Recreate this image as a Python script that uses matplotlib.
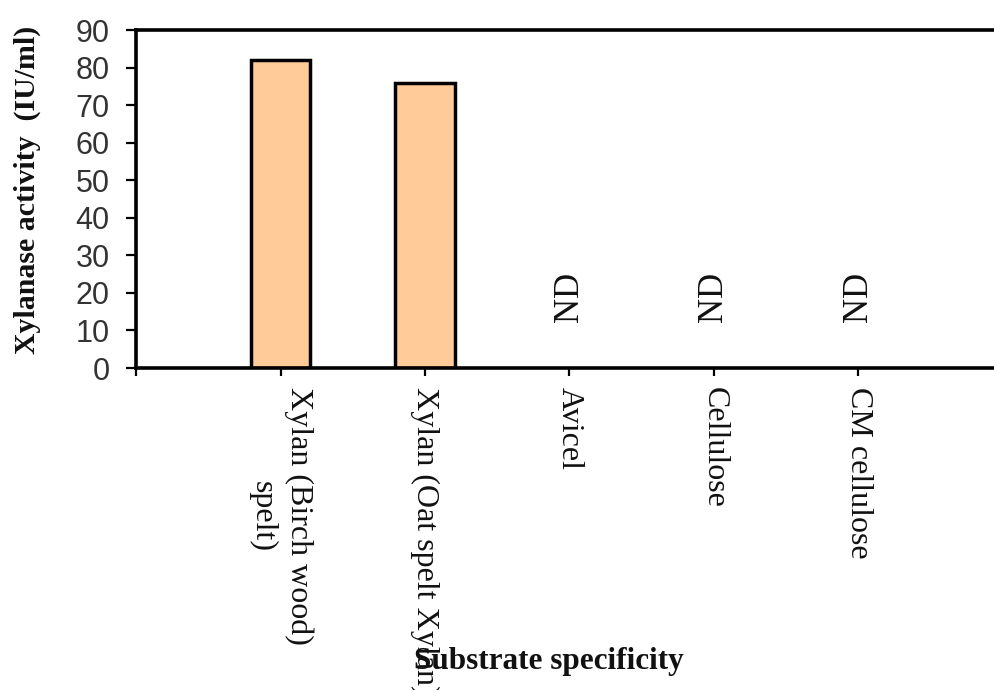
import matplotlib
matplotlib.use("Agg")
import matplotlib.pyplot as plt

# Substrate specificity of the xylanase
categories = ["Xylan (Birch wood)\nspelt)", "Xylan (Oat spelt Xylan)", "Avicel", "Cellulose", "CM cellulose"]
activity = [82, 76, 0, 0, 0]          # IU/ml, 0 = not detected
nd_label = "ND"
nd_level = 19
yticks = [0, 10, 20, 30, 40, 50, 60, 70, 80, 90]

W, H = 995, 690
fig = plt.figure(figsize=(W / 100, H / 100), dpi=100)
left, right, top, bottom = 136, 1003, 30, 368
ax = fig.add_axes([left / W, 1 - bottom / H, (right - left) / W, (bottom - top) / H])

xpos = list(range(1, len(categories) + 1))
bx = [x for x, v in zip(xpos, activity) if v > 0]
bv = [v for v in activity if v > 0]
ax.bar(bx, bv, width=0.415, color="#FFCC99", edgecolor="black", linewidth=2.5, zorder=2)

for x, v in zip(xpos, activity):
    if v == 0:
        ax.text(x, nd_level, nd_label, rotation=90, ha="center", va="center",
                fontsize=25, family="Liberation Serif", color="#111111")

ax.set_xlim(0, 6)
ax.set_ylim(0, 90)
ax.set_yticks(yticks)
ax.set_yticklabels([str(t) for t in yticks], family="Liberation Sans", fontsize=22, color="#333333")

ax.set_xticks([0] + xpos)
ax.set_xticklabels([""] + categories, rotation=-90, ha="center", va="top",
                   multialignment="center", family="Liberation Serif", fontsize=23,
                   color="#111111", linespacing=1.3)

ax.tick_params(axis="y", direction="out", length=7, width=1.6, pad=12)
ax.tick_params(axis="x", direction="out", length=6, width=1.6, pad=8)

for side in ["left", "bottom", "top", "right"]:
    ax.spines[side].set_linewidth(2.6)
    ax.spines[side].set_color("black")

fig.text(27 / W, 1 - 190 / H, "Xylanase activity  (IU/ml)", rotation=90, ha="center", va="center",
         family="Liberation Serif", fontweight="bold", fontsize=21.5, color="#111111")
fig.text(549 / W, 1 - 662 / H, "Substrate specificity", ha="center", va="center",
         family="Liberation Serif", fontweight="bold", fontsize=22.5, color="#111111")

fig.savefig("out.png", dpi=100)
